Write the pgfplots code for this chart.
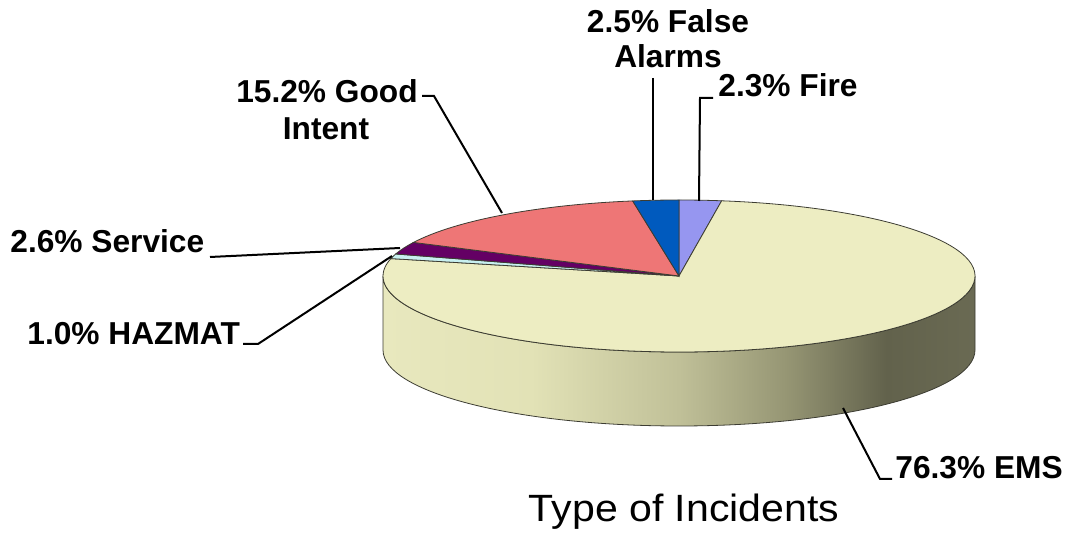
\documentclass[border=0pt]{standalone}
\usepackage{pgfplots}
\pgfplotsset{compat=1.18}
\usepackage{fontspec}
\setmainfont{Liberation Sans}
\newfontfamily\titlefont{Liberation Sans}[FakeStretch=1.08]
\definecolor{emstop}{RGB}{237,237,194}
\definecolor{firec}{RGB}{150,150,240}
\definecolor{falsec}{RGB}{0,90,190}
\definecolor{goodc}{RGB}{238,118,118}
\definecolor{servc}{RGB}{100,0,100}
\definecolor{hazc}{RGB}{200,240,240}
\definecolor{edgec}{RGB}{60,60,50}
\definecolor{sa}{RGB}{232,232,190}
\definecolor{sb}{RGB}{226,226,182}
\definecolor{sc}{RGB}{192,192,152}
\definecolor{sd}{RGB}{150,150,116}
\definecolor{se}{RGB}{98,98,76}
\definecolor{sf}{RGB}{106,106,83}
\pgfdeclarehorizontalshading{emsside}{100bp}{color(0bp)=(sa); color(25bp)=(sa); color(37.5bp)=(sb); color(50bp)=(sc); color(59bp)=(sd); color(67.5bp)=(se); color(75bp)=(sf); color(100bp)=(sf)}
\newcommand\lab{\fontsize{15.85}{19}\selectfont\bfseries}
\begin{document}
\begin{tikzpicture}
\begin{axis}[scale only axis, width=533pt, height=267.5pt,
  xmin=0, xmax=1066, ymin=0, ymax=535, disabledatascaling,
  axis lines=none, ticks=none, clip=false]
\pgfplotsextra{%
  \path (axis cs:0,0) rectangle (axis cs:1066,535);
  % side wall (front half belongs to EMS); 1 unit = 0.5pt
  \shade[shading=emsside] (axis cs:383,259) arc[start angle=180, end angle=360, x radius=148pt, y radius=38pt]
     -- ++(0pt,-37pt) arc[start angle=360, end angle=180, x radius=148pt, y radius=38pt] -- cycle;
  \draw[edgec, line width=0.4pt] (axis cs:383,259) arc[start angle=180, end angle=360, x radius=148pt, y radius=38pt]
     -- ++(0pt,-37pt) arc[start angle=360, end angle=180, x radius=148pt, y radius=38pt] -- cycle;
  % top face slices (percent shares), clockwise from 12 o'clock
  \foreach \v/\c [remember=\e as \s (initially 90)] in {2.3/firec, 76.3/emstop, 1.0/hazc, 2.6/servc, 15.2/goodc, 2.5/falsec}{
    \pgfmathsetmacro{\e}{\s-\v*3.6036036}
    \filldraw[fill=\c, draw=edgec, line width=0.4pt] (axis cs:679,259) -- ++(\s:148pt and 38pt)
       arc[start angle=\s, end angle=\e, x radius=148pt, y radius=38pt] -- cycle;
  }
  % leader lines
  \draw[black, line width=1pt] (axis cs:653,457) -- (axis cs:653,335);
  \draw[black, line width=1pt] (axis cs:713,437) -- (axis cs:700,437) -- (axis cs:699,334);
  \draw[black, line width=1pt] (axis cs:422,439) -- (axis cs:434,439) -- (axis cs:502,322);
  \draw[black, line width=1pt] (axis cs:210,278) -- (axis cs:400,287);
  \draw[black, line width=1pt] (axis cs:243,191) -- (axis cs:258,191) -- (axis cs:392,279);
  \draw[black, line width=1pt] (axis cs:892,56) -- (axis cs:880,56) -- (axis cs:843,127);
  % labels
  \node[anchor=base, inner sep=0pt] at (axis cs:668,502) {\lab 2.5\% False};
  \node[anchor=base, inner sep=0pt] at (axis cs:668,467) {\lab Alarms};
  \node[anchor=base west, inner sep=0pt] at (axis cs:718,438) {\lab 2.3\% Fire};
  \node[anchor=base, inner sep=0pt] at (axis cs:327,432) {\lab 15.2\% Good};
  \node[anchor=base, inner sep=0pt] at (axis cs:326,395) {\lab Intent};
  \node[anchor=base west, inner sep=0pt] at (axis cs:10,282) {\lab 2.6\% Service};
  \node[anchor=base west, inner sep=0pt] at (axis cs:27,190) {\lab 1.0\% HAZMAT};
  \node[anchor=base west, inner sep=0pt] at (axis cs:895,56) {\lab 76.3\% EMS};
  \node[anchor=base, inner sep=0pt] at (axis cs:684,13) {\titlefont\fontsize{19}{23}\selectfont Type of Incidents};
}
\end{axis}
\end{tikzpicture}
\end{document}
